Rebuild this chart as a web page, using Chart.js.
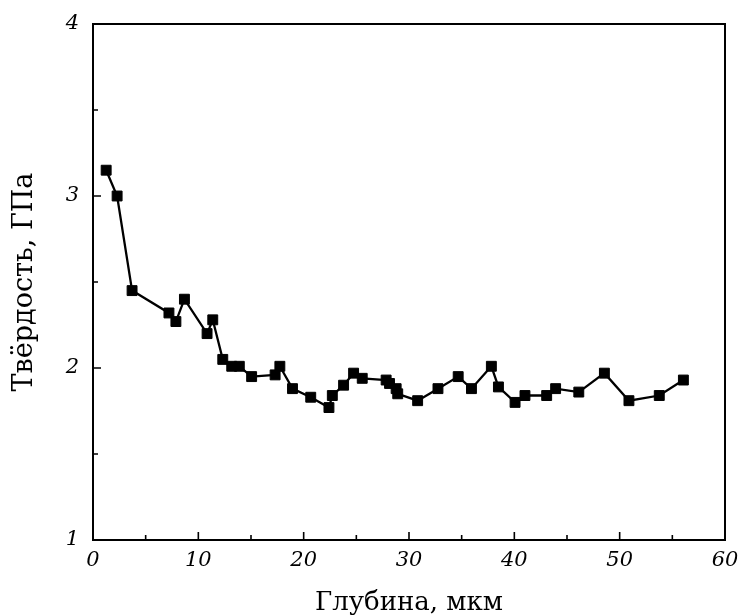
<!DOCTYPE html>
<html>
<head>
<meta charset="utf-8">
<script src="https://cdn.jsdelivr.net/npm/chart.js@4/dist/chart.umd.min.js"></script>
<style>
  html, body { margin: 0; padding: 0; background: #fff; }
  #hardness { display: block; }
</style>
</head>
<body>
<canvas id="hardness" width="741" height="616"></canvas>
<script>
// Depth profile of hardness
const depth = [1.25, 2.29, 3.71, 7.21, 7.87, 8.68, 10.83, 11.37, 12.32, 13.17,
               13.89, 15.06, 17.29, 17.74, 18.94, 20.67, 22.40, 22.72, 23.79, 24.74,
               25.56, 27.83, 28.15, 28.78, 28.93, 30.82, 32.75, 34.67, 35.93, 37.82,
               38.49, 40.07, 41.01, 43.07, 43.92, 46.12, 48.55, 50.88, 53.76, 56.05];
const hardness = [3.15, 3.00, 2.45, 2.32, 2.27, 2.40, 2.20, 2.28, 2.05, 2.01,
                  2.01, 1.95, 1.96, 2.01, 1.88, 1.83, 1.77, 1.84, 1.90, 1.97,
                  1.94, 1.93, 1.91, 1.88, 1.85, 1.81, 1.88, 1.95, 1.88, 2.01,
                  1.89, 1.80, 1.84, 1.84, 1.88, 1.86, 1.97, 1.81, 1.84, 1.93];

const xMajorTicks = [0, 10, 20, 30, 40, 50, 60];
const xMinorTicks = [5, 15, 25, 35, 45, 55];
const yMajorTicks = [1, 2, 3, 4];
const yMinorTicks = [1.5, 2.5, 3.5];

const ink = '#000';
const tickFont = { family: 'DejaVu Serif', size: 21, style: 'italic' };

// frame around the plot plus inward tick marks on the left and bottom
const frameAndTicks = {
    id: 'frameAndTicks',
    afterDatasetsDraw(chart) {
        const { ctx, chartArea: a, scales: { x, y } } = chart;
        ctx.save();
        ctx.strokeStyle = ink;
        ctx.lineWidth = 2;
        ctx.strokeRect(a.left, a.top, a.right - a.left, a.bottom - a.top);

        ctx.lineWidth = 1.6;
        ctx.beginPath();
        const tickX = (v, len) => {
            const px = x.getPixelForValue(v);
            ctx.moveTo(px, a.bottom);
            ctx.lineTo(px, a.bottom - len);
        };
        const tickY = (v, len) => {
            const py = y.getPixelForValue(v);
            ctx.moveTo(a.left, py);
            ctx.lineTo(a.left + len, py);
        };
        xMajorTicks.forEach(v => tickX(v, 8));
        xMinorTicks.forEach(v => tickX(v, 5));
        yMajorTicks.forEach(v => tickY(v, 8));
        yMinorTicks.forEach(v => tickY(v, 5));
        ctx.stroke();
        ctx.restore();
    }
};

new Chart(document.getElementById('hardness'), {
    type: 'line',
    data: {
        datasets: [{
            data: depth.map((d, i) => ({ x: d, y: hardness[i] })),
            borderColor: ink,
            borderWidth: 2.3,
            backgroundColor: ink,
            pointStyle: 'rect',
            pointRadius: 7,
            pointBorderWidth: 1,
            pointBorderColor: ink,
            tension: 0,
            fill: false
        }]
    },
    options: {
        responsive: false,
        animation: false,
        layout: { padding: { top: 24, right: 16, left: 0, bottom: 0 } },
        plugins: {
            legend: { display: false },
            tooltip: { enabled: false }
        },
        scales: {
            x: {
                type: 'linear',
                min: 0,
                max: 60,
                afterFit: s => {
                    s.height = 76;
                    s.paddingLeft = 0;
                    s.paddingRight = 0;
                },
                afterBuildTicks: s => { s.ticks = xMajorTicks.map(v => ({ value: v })); },
                grid: { display: false, drawTicks: false },
                border: { display: false },
                ticks: { color: ink, font: tickFont, padding: 8, maxRotation: 0 },
                title: {
                    display: true,
                    text: 'Глубина, мкм',
                    color: ink,
                    font: { family: 'DejaVu Serif', size: 26, lineHeight: 1 },
                    padding: { top: 0, bottom: 0 }
                }
            },
            y: {
                min: 1,
                max: 4,
                afterFit: s => {
                    s.width = 93;
                    s.paddingTop = 0;
                    s.paddingBottom = 0;
                },
                afterBuildTicks: s => { s.ticks = yMajorTicks.map(v => ({ value: v })); },
                grid: { display: false, drawTicks: false },
                border: { display: false },
                ticks: { color: ink, font: tickFont, padding: 14 },
                title: {
                    display: true,
                    text: 'Твёрдость, ГПа',
                    color: ink,
                    font: { family: 'DejaVu Serif', size: 27, lineHeight: 1 },
                    padding: { top: 11, bottom: 0 }
                }
            }
        }
    },
    plugins: [frameAndTicks]
});
</script>
</body>
</html>
